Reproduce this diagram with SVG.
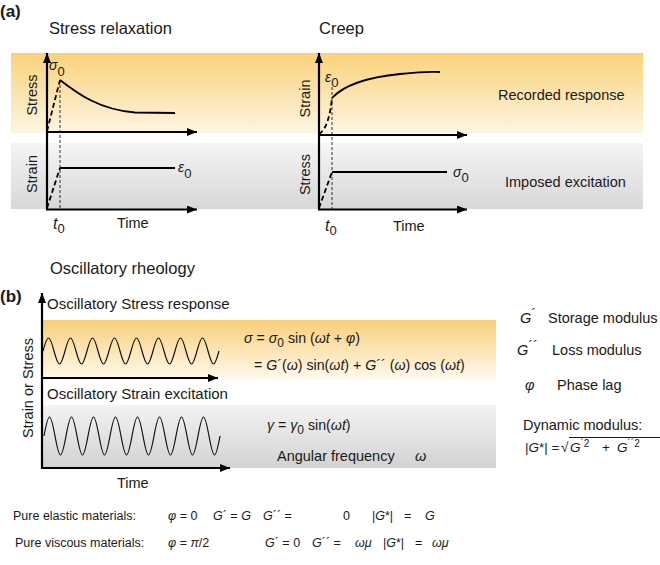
<svg xmlns="http://www.w3.org/2000/svg" width="660" height="565" viewBox="0 0 660 565">
<defs>
<linearGradient id="gOrA" x1="0" y1="0" x2="0" y2="1"><stop offset="0" stop-color="#fad27a"/><stop offset="1" stop-color="#fdf5e2"/></linearGradient>
<linearGradient id="gGrA" x1="0" y1="0" x2="0" y2="1"><stop offset="0" stop-color="#f5f5f5"/><stop offset="1" stop-color="#d7d7d7"/></linearGradient>
<linearGradient id="gOrB" x1="0" y1="0" x2="0" y2="1"><stop offset="0" stop-color="#f9cf78"/><stop offset="1" stop-color="#fffaf0"/></linearGradient>
<linearGradient id="gGrB" x1="0" y1="0" x2="0" y2="1"><stop offset="0" stop-color="#f3f3f3"/><stop offset="1" stop-color="#d2d2d2"/></linearGradient>
<marker id="arr" markerUnits="userSpaceOnUse" markerWidth="11" markerHeight="9" refX="10" refY="4" orient="auto"><path d="M0,0 L10,4 L0,8 z" fill="#000"/></marker>
<style>
.t{font-family:'Liberation Sans',Arial,sans-serif;fill:#1a1a1a}
.title{font-size:16.5px}
.lbl{font-size:14.5px}
.eq{font-size:14.2px}
.sm{font-size:12.5px}
.i{font-style:italic}
.ax{stroke:#000;stroke-width:2.2;fill:none}
.curve{stroke:#000;stroke-width:1.8;fill:none}
.dash{stroke:#000;stroke-width:1.8;stroke-dasharray:5 3;fill:none}
.thin{stroke:#000;stroke-width:0.8;stroke-dasharray:3 2;fill:none}
.sine{stroke:#111;stroke-width:1.2;fill:none}
</style>
</defs>
<rect width="660" height="565" fill="#fff"/>

<g id="bands-a">
<rect x="11" y="53" width="632" height="80" fill="url(#gOrA)"/>
<rect x="11" y="143" width="632" height="66" fill="url(#gGrA)"/>
</g>

<g id="panel-a-labels" class="t">
<text x="0" y="17" font-size="17" font-weight="bold">(a)</text>
<text x="49" y="33.5" class="title">Stress relaxation</text>
<text x="319" y="33.5" class="title">Creep</text>
<text x="498" y="100" class="lbl">Recorded response</text>
<text x="505" y="187" class="lbl">Imposed excitation</text>
</g>

<g id="stress-relaxation">
<g class="t lbl">
<text transform="translate(37,95) rotate(-90)" text-anchor="middle">Stress</text>
<text transform="translate(37,174) rotate(-90)" text-anchor="middle">Strain</text>
<text x="49" y="70" class="i" font-size="14">σ<tspan font-size="13" font-style="normal" dy="6">0</tspan></text>
<text x="178" y="172" class="i" font-size="14">ε<tspan font-size="13" font-style="normal" dy="6">0</tspan></text>
<text x="53" y="229" class="i" font-size="16">t<tspan font-size="13" font-style="normal" dy="4">0</tspan></text>
<text x="117" y="228">Time</text>
</g>
<line class="thin" x1="60" y1="80" x2="60" y2="209"/>
<path class="dash" d="M47,131 L60,80"/>
<path class="curve" d="M60,80 C78,94 100,110 135,112.5 L175,113"/>
<path class="dash" d="M47,208 L60,168"/>
<path class="curve" d="M60,168 L175,168"/>
<g class="ax">
<line x1="47" y1="209.5" x2="47" y2="53" marker-end="url(#arr)"/>
<line x1="46" y1="132" x2="197" y2="132" marker-end="url(#arr)"/>
<line x1="46" y1="209.5" x2="197" y2="209.5" marker-end="url(#arr)"/>
</g>
</g>

<g id="creep">
<g class="t lbl">
<text transform="translate(310,98.5) rotate(-90)" text-anchor="middle">Strain</text>
<text transform="translate(310,174.5) rotate(-90)" text-anchor="middle">Stress</text>
<text x="325" y="82" class="i" font-size="14">ε<tspan font-size="13" font-style="normal" dy="5">0</tspan></text>
<text x="453" y="177" class="i" font-size="14">σ<tspan font-size="13" font-style="normal" dy="5">0</tspan></text>
<text x="325" y="231" class="i" font-size="16">t<tspan font-size="13" font-style="normal" dy="4">0</tspan></text>
<text x="393" y="231">Time</text>
</g>
<line class="thin" x1="332" y1="87" x2="332" y2="209"/>
<path class="dash" d="M319,134 Q329,128 332,98"/>
<path class="curve" d="M332,98 C345,84 370,77 400,74 S430,72 440,72"/>
<path class="dash" d="M319,208 L332,172"/>
<path class="curve" d="M332,172 L447,172"/>
<g class="ax">
<line x1="319" y1="209.5" x2="319" y2="53" marker-end="url(#arr)"/>
<line x1="318" y1="135" x2="467" y2="135" marker-end="url(#arr)"/>
<line x1="318" y1="209.5" x2="467" y2="209.5" marker-end="url(#arr)"/>
</g>
</g>

<g id="oscillatory">
<rect x="43" y="320" width="453" height="60" fill="url(#gOrB)"/>
<rect x="43" y="405" width="453" height="63" fill="url(#gGrB)"/>
<g class="t">
<text x="50" y="274" class="title">Oscillatory rheology</text>
<text x="0" y="302" font-size="17" font-weight="bold">(b)</text>
<text x="47" y="309" font-size="15">Oscillatory Stress response</text>
<text x="47" y="399" font-size="15">Oscillatory Strain excitation</text>
<text transform="translate(33,388) rotate(-90)" text-anchor="middle" class="lbl">Strain or Stress</text>
<text x="117" y="488" class="lbl">Time</text>
</g>
<path class="sine" d="M43,351 c1.794,-6.66 3.509,-13 5.5,-13 s3.706,6.34 5.5,13 s3.509,13 5.5,13 s3.706,-6.34 5.5,-13
 s3.509,-13 5.5,-13 s3.706,6.34 5.5,13 s3.509,13 5.5,13 s3.706,-6.34 5.5,-13
 s3.509,-13 5.5,-13 s3.706,6.34 5.5,13 s3.509,13 5.5,13 s3.706,-6.34 5.5,-13
 s3.509,-13 5.5,-13 s3.706,6.34 5.5,13 s3.509,13 5.5,13 s3.706,-6.34 5.5,-13
 s3.509,-13 5.5,-13 s3.706,6.34 5.5,13 s3.509,13 5.5,13 s3.706,-6.34 5.5,-13
 s3.509,-13 5.5,-13 s3.706,6.34 5.5,13 s3.509,13 5.5,13 s3.706,-6.34 5.5,-13
 s3.509,-13 5.5,-13 s3.706,6.34 5.5,13 s3.509,13 5.5,13 s3.706,-6.34 5.5,-13
 s3.509,-13 5.5,-13 s3.706,6.34 5.5,13 s3.509,13 5.5,13 s3.706,-6.34 5.5,-13"/>
<path class="sine" d="M44,436 c1.794,-9.73 3.509,-19 5.5,-19 s3.706,9.27 5.5,19 s3.509,19 5.5,19 s3.706,-9.27 5.5,-19
 s3.509,-19 5.5,-19 s3.706,9.27 5.5,19 s3.509,19 5.5,19 s3.706,-9.27 5.5,-19
 s3.509,-19 5.5,-19 s3.706,9.27 5.5,19 s3.509,19 5.5,19 s3.706,-9.27 5.5,-19
 s3.509,-19 5.5,-19 s3.706,9.27 5.5,19 s3.509,19 5.5,19 s3.706,-9.27 5.5,-19
 s3.509,-19 5.5,-19 s3.706,9.27 5.5,19 s3.509,19 5.5,19 s3.706,-9.27 5.5,-19
 s3.509,-19 5.5,-19 s3.706,9.27 5.5,19 s3.509,19 5.5,19 s3.706,-9.27 5.5,-19
 s3.509,-19 5.5,-19 s3.706,9.27 5.5,19 s3.509,19 5.5,19 s3.706,-9.27 5.5,-19
 s3.509,-19 5.5,-19 s3.706,9.27 5.5,19 s3.509,19 5.5,19 s3.706,-9.27 5.5,-19"/>
<g class="ax">
<line x1="42" y1="469" x2="42" y2="293" marker-end="url(#arr)"/>
<line x1="41" y1="378" x2="218" y2="378" marker-end="url(#arr)"/>
<line x1="41" y1="468" x2="230" y2="468" marker-end="url(#arr)"/>
</g>
<g class="t eq">
<text x="244" y="343"><tspan class="i">σ</tspan> = <tspan class="i">σ</tspan><tspan font-size="12" dy="4">0</tspan><tspan dy="-4"> sin (</tspan><tspan class="i">ωt</tspan> + <tspan class="i">φ</tspan>)</text>
<text x="254" y="370">= <tspan class="i">G</tspan>´(<tspan class="i">ω</tspan>) sin(<tspan class="i">ωt</tspan>) + <tspan class="i">G</tspan>´´ (<tspan class="i">ω</tspan>) cos (<tspan class="i">ωt</tspan>)</text>
<text x="267" y="430"><tspan class="i">γ</tspan> = <tspan class="i">γ</tspan><tspan font-size="12" dy="4">0</tspan><tspan dy="-4"> sin(</tspan><tspan class="i">ωt</tspan>)</text>
<text x="277" y="461" class="lbl">Angular frequency</text>
<text x="415" y="461" class="i lbl">ω</text>
</g>
</g>

<g id="legend" class="t lbl">
<text x="520" y="323"><tspan class="i">G</tspan><tspan dy="-4">´</tspan></text>
<text x="548" y="323">Storage modulus</text>
<text x="517" y="355"><tspan class="i">G</tspan><tspan dy="-4">´´</tspan></text>
<text x="552" y="355">Loss modulus</text>
<text x="525" y="390" class="i">φ</text>
<text x="557" y="390">Phase lag</text>
<text x="523" y="430">Dynamic modulus:</text>
<g font-size="13.5">
<text x="525" y="452">|<tspan class="i">G</tspan>*| =</text>
<text x="561" y="452">√</text>
<text x="570" y="452"><tspan class="i">G</tspan><tspan font-size="10" dy="-5">´2</tspan></text>
<text x="602" y="452">+</text>
<text x="617" y="452"><tspan class="i">G</tspan><tspan font-size="10" dy="-5">´´2</tspan></text>
</g>
<line x1="569" y1="437.5" x2="660" y2="437.5" stroke="#1a1a1a" stroke-width="1"/>
</g>

<g id="materials" class="t sm">
<text x="13" y="520">Pure elastic materials:</text>
<text x="168" y="520"><tspan class="i">φ</tspan> = 0</text>
<text x="213" y="520"><tspan class="i">G</tspan>´ = <tspan class="i">G</tspan></text>
<text x="263" y="520"><tspan class="i">G</tspan>´´ =</text>
<text x="343" y="520">0</text>
<text x="372" y="520">|<tspan class="i">G</tspan>*|</text>
<text x="404" y="520">=</text>
<text x="425" y="520" class="i">G</text>
<text x="15" y="547">Pure viscous materials:</text>
<text x="168" y="547"><tspan class="i">φ</tspan> = <tspan class="i">π</tspan>/2</text>
<text x="265" y="547"><tspan class="i">G</tspan>´ = 0</text>
<text x="312" y="547"><tspan class="i">G</tspan>´´ =</text>
<text x="355" y="547" class="i">ωμ</text>
<text x="383" y="547">|<tspan class="i">G</tspan>*|</text>
<text x="415" y="547">=</text>
<text x="432" y="547" class="i">ωμ</text>
</g>
</svg>
